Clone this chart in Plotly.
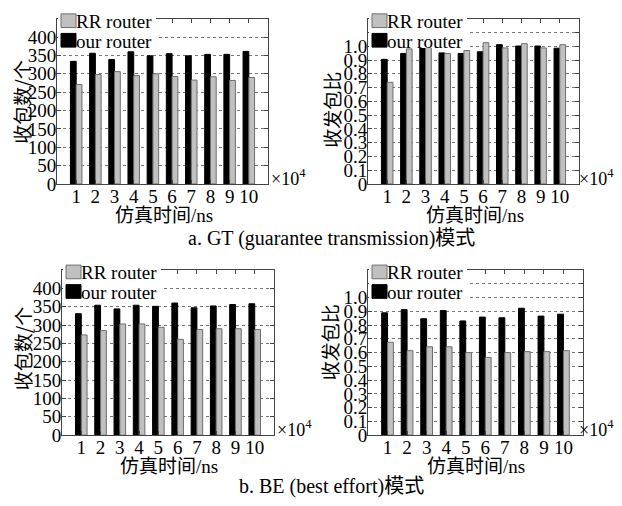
import plotly.graph_objects as go

times = [1, 2, 3, 4, 5, 6, 7, 8, 9, 10]
time_labels = ["1", "2", "3", "4", "5", "6", "7", "8", "9", "10"]
series_names = ["RR router", "our router"]

# a. GT mode
gt_count_our = [334, 356, 339, 360, 349, 355, 349, 353, 353, 361]
gt_count_rr = [271, 298, 306, 295, 300, 293, 283, 292, 282, 290]
gt_ratio_our = [0.905, 0.948, 0.988, 0.952, 0.948, 0.960, 1.012, 1.002, 1.002, 0.986]
gt_ratio_rr = [0.738, 0.981, 1.010, 0.948, 0.969, 1.026, 0.988, 1.019, 0.988, 1.012]

# b. BE mode
be_count_our = [331, 354, 344, 354, 351, 360, 347, 352, 356, 358]
be_count_rr = [273, 285, 303, 303, 294, 261, 288, 290, 290, 288]
be_ratio_our = [0.889, 0.912, 0.846, 0.905, 0.830, 0.858, 0.853, 0.922, 0.865, 0.879]
be_ratio_rr = [0.675, 0.614, 0.642, 0.642, 0.600, 0.565, 0.600, 0.607, 0.607, 0.614]

count_ticks = [0, 50, 100, 150, 200, 250, 300, 350, 400]
count_labels = ["0", "50", "100", "150", "200", "250", "300", "350", "400"]
ratio_ticks = [0, 0.1, 0.2, 0.3, 0.4, 0.5, 0.6, 0.7, 0.8, 0.9, 1.0, 1.1]
ratio_labels = ["0", "0.1", "0.2", "0.3", "0.4", "0.5", "0.6", "0.7", "0.8", "0.9", "1.0", ""]

# the page body has an 8px margin, so the figure is 16px smaller than the window
OFF = 8
W, H = 622 - 2 * OFF, 506 - 2 * OFF
SERIF = "Liberation Serif"
MIXED = "Liberation Serif, Noto Sans CJK SC"
CJK = "Noto Sans CJK SC"
FRAME = "#444444"
GREY = "#c0c0c0"
GREY_EDGE = "#6e6e6e"


def px(x):
    return (x - OFF) / W


def py(y):
    return 1 - (y - OFF) / H


fig = go.Figure()

panels = [
    # (our, rr, xaxis, yaxis, left, right, top, bottom, ytitle_x, ytitle_y, kind)
    (gt_count_our, gt_count_rr, "x", "y", 57, 268, 19, 188, 22, 105, "count"),
    (gt_ratio_our, gt_ratio_rr, "x2", "y2", 368, 579, 19, 188, 332, 112, "ratio"),
    (be_count_our, be_count_rr, "x3", "y3", 62, 274, 276, 445, 22, 357, "count"),
    (be_ratio_our, be_ratio_rr, "x4", "y4", 368, 583, 276, 445, 329, 350, "ratio"),
]

layout = dict(
    width=W, height=H,
    margin=dict(l=0, r=0, t=0, b=0),
    paper_bgcolor="white", plot_bgcolor="white",
    barmode="group", bargap=0.4, bargroupgap=0.0,
    font=dict(family=SERIF, size=19, color="black"),
    showlegend=False,
)

annotations = []
shapes = []
for i, (our, rr, xa, ya, x0, x1, yt, yb, tx, ty, kind) in enumerate(panels):
    fig.add_trace(go.Bar(
        x=times, y=our, name=series_names[1], xaxis=xa, yaxis=ya,
        marker=dict(color="black", line=dict(color="black", width=1)),
    ))
    fig.add_trace(go.Bar(
        x=times, y=rr, name=series_names[0], xaxis=xa, yaxis=ya,
        marker=dict(color=GREY, line=dict(color=GREY_EDGE, width=1)),
    ))
    xkey = "xaxis" if xa == "x" else "xaxis" + xa[1:]
    ykey = "yaxis" if ya == "y" else "yaxis" + ya[1:]
    layout[xkey] = dict(
        domain=[px(x0), px(x1)], anchor=ya, range=[0, 11],
        tickvals=times, ticktext=time_labels,
        ticks="inside", ticklen=4, tickcolor=FRAME,
        showline=True, linecolor=FRAME, linewidth=1, mirror="ticks",
        showgrid=False, zeroline=False,
        tickfont=dict(family=SERIF, size=19),
        ticklabelstandoff=-5,
    )
    if kind == "count":
        yr, tv, tt, title = [0, 450], count_ticks, count_labels, "收包数/个"
    else:
        yr, tv, tt, title = [0, 1.2], ratio_ticks, ratio_labels, "收发包比"
    layout[ykey] = dict(
        domain=[py(yb), py(yt)], anchor=xa, range=yr,
        tickvals=tv, ticktext=tt,
        ticks="inside", ticklen=4, tickcolor=FRAME,
        showline=True, linecolor=FRAME, linewidth=1, mirror="ticks",
        showgrid=True, gridcolor="#777777", griddash="dot", gridwidth=1,
        zeroline=False,
        tickfont=dict(family=SERIF, size=19),
        ticklabelstandoff=-4,
    )
    # x-axis title
    annotations.append(dict(
        text="仿真时间/ns", showarrow=False,
        xref="paper", yref="paper",
        x=px((x0 + x1) / 2 + 1), y=py(yb + 32),
        xanchor="center", yanchor="middle",
        font=dict(family=MIXED, size=19),
    ))
    # y-axis title
    annotations.append(dict(
        text=title, textangle=-90, showarrow=False,
        xref="paper", yref="paper",
        x=px(tx), y=py(ty),
        xanchor="center", yanchor="middle",
        font=dict(family=CJK, size=19),
    ))
    # x10^4 multiplier
    mx = x1 + 2 if kind == "count" else min(x1 + 1, 578)
    annotations.append(dict(
        text="×10<sup>4</sup>", showarrow=False,
        xref="paper", yref="paper",
        x=px(mx - 1), y=py(yb - 7),
        xanchor="left", yanchor="middle",
        font=dict(family=SERIF, size=18),
    ))
    # legend box (white background covering grid/frame), keys and labels
    lx = x0 + 4
    ly = yt - 5
    shapes.append(dict(
        type="rect", xref="paper", yref="paper", layer="above",
        x0=px(x0 + 1), x1=px(x0 + 99), y0=py(ly + 35), y1=py(ly - 4),
        fillcolor="white", line=dict(width=0),
    ))
    key_colors = [(GREY, GREY_EDGE), ("black", "black")]
    for k, name in enumerate(series_names):
        fc, lc = key_colors[k]
        top = ly + 20 * k
        shapes.append(dict(
            type="rect", xref="paper", yref="paper", layer="above",
            x0=px(lx), x1=px(lx + 15), y0=py(top + 14), y1=py(top),
            fillcolor=fc, line=dict(color=lc, width=1),
        ))
        annotations.append(dict(
            text=name, showarrow=False,
            xref="paper", yref="paper",
            x=px(lx + 13), y=py(top + 8),
            xanchor="left", yanchor="middle",
            font=dict(family=SERIF, size=19),
        ))

annotations.append(dict(
    text="a. GT (guarantee transmission)模式", showarrow=False,
    xref="paper", yref="paper", x=px(331), y=py(244),
    xanchor="center", yanchor="middle", font=dict(family=MIXED, size=20),
))
annotations.append(dict(
    text="b. BE (best effort)模式", showarrow=False,
    xref="paper", yref="paper", x=px(331), y=py(497),
    xanchor="center", yanchor="middle", font=dict(family=MIXED, size=20),
))
layout["annotations"] = annotations
layout["shapes"] = shapes

fig.update_layout(**layout)
fig.write_html("out.html")
